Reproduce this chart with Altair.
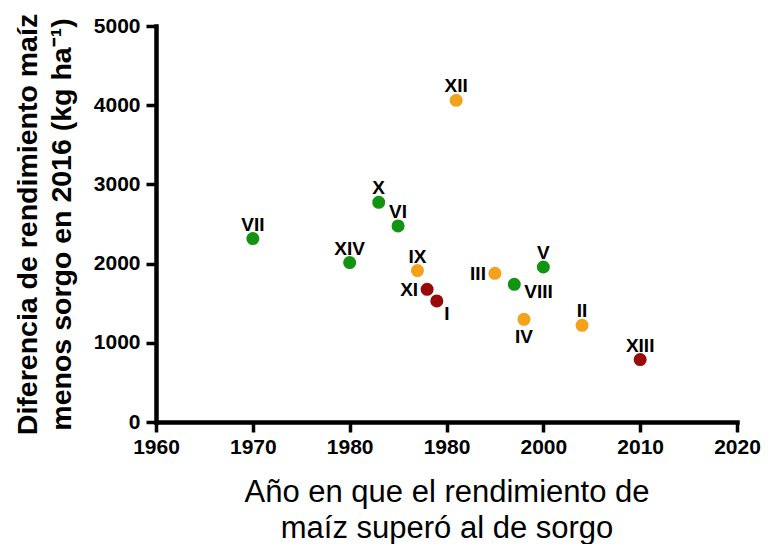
import altair as alt
import pandas as pd

# ---- data ----
labels = ["VII", "XIV", "X", "VI", "XII", "IX", "XI", "I", "III", "VIII", "V", "IV", "II", "XIII"]
years = [1970, 1980, 1983, 1985, 1991, 1987, 1988, 1989, 1995, 1997, 2000, 1998, 2004, 2010]
diff = [2316, 2013, 2774, 2475, 4062, 1912, 1675, 1528, 1877, 1739, 1957, 1297, 1221, 788]
group = ["g", "g", "g", "g", "o", "o", "r", "r", "o", "g", "g", "o", "o", "r"]
label_pos = ["above", "above", "above", "above", "above", "above", "left", "belowright",
             "left", "right", "above", "below", "above", "above"]

x_ticks = [1960, 1970, 1980, 1990, 2000, 2010, 2020]
x_tick_labels = ["1960", "1970", "1980", "1980", "2000", "2010", "2020"]
y_ticks = [0, 1000, 2000, 3000, 4000, 5000]

df = pd.DataFrame({"label": labels, "year": years, "diff": diff,
                   "group": group, "pos": label_pos})

colors = {"g": "#129412", "o": "#f4a21c", "r": "#980a0a"}

label_expr = " : ".join(
    f"datum.value == {v} ? '{t}'" for v, t in zip(x_ticks, x_tick_labels)
) + " : datum.label"

FONT = "Liberation Sans"

common_axis = dict(domainColor="black", domainWidth=4.5, domainCap="square",
                   tickColor="black", tickWidth=3.5, tickSize=10, grid=False,
                   labelFont=FONT, labelFontSize=21, labelFontWeight="bold",
                   labelColor="black", labelFlush=False)

x_axis = alt.Axis(values=x_ticks, labelExpr=label_expr, format="d",
                  title=["Año en que el rendimiento de", "maíz  superó al de sorgo"],
                  titleFont=FONT, titleFontSize=31, titleFontWeight="normal",
                  titleColor="black", titlePadding=20, titleLineHeight=36,
                  labelPadding=4, **common_axis)
y_axis = alt.Axis(values=y_ticks, format="d",
                  title=["Diferencia de rendimiento maíz", "menos sorgo en 2016 (kg ha\u207b\u00b9)"],
                  titleFont=FONT, titleFontSize=28.5, titleFontWeight="bold",
                  titleColor="black", titlePadding=17, titleLineHeight=34,
                  labelPadding=6, **common_axis)

x_scale = alt.Scale(domain=[1960, 2020], nice=False, zero=False)
y_scale = alt.Scale(domain=[0, 5000], nice=False)

x_enc = alt.X("year:Q", scale=x_scale, axis=x_axis)
y_enc = alt.Y("diff:Q", scale=y_scale, axis=y_axis)

base = alt.Chart(df)

points = base.mark_circle(size=170, opacity=1).encode(
    x=x_enc, y=y_enc,
    color=alt.Color("group:N", scale=alt.Scale(domain=list(colors.keys()),
                                               range=list(colors.values())), legend=None),
)

placements = {
    "above": dict(dx=0, dy=-8, align="center", baseline="alphabetic"),
    "left": dict(dx=-9, dy=7, align="right", baseline="alphabetic"),
    "right": dict(dx=10, dy=14, align="left", baseline="alphabetic"),
    "belowright": dict(dx=10, dy=19, align="center", baseline="alphabetic"),
    "below": dict(dx=0, dy=24, align="center", baseline="alphabetic"),
}

text_layers = []
for name, p in placements.items():
    text_layers.append(
        base.transform_filter(alt.datum.pos == name).mark_text(
            font=FONT, fontSize=19, fontWeight="bold", color="black", **p
        ).encode(x=x_enc, y=y_enc, text="label:N")
    )

chart = alt.layer(points, *text_layers).properties(
    width=581, height=396,
    autosize=alt.AutoSizeParams(type="none"),
    padding={"left": 148, "top": 18, "right": 24, "bottom": 122},
).configure(background="white").configure_view(stroke=None).configure_axis(
    domainColor="black", domainWidth=4.5,
    tickColor="black", tickWidth=3.5, tickSize=10, grid=False,
)

chart.save("out.html", embed_options={"renderer": "svg", "actions": False})
